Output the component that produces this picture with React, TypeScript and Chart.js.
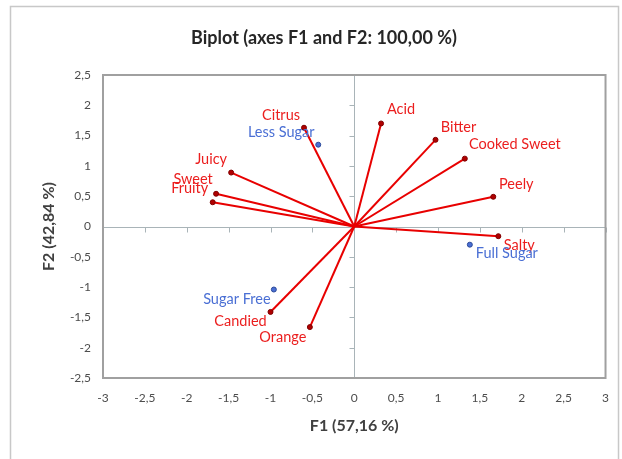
import React, { useEffect, useRef } from "react";
import { Chart, registerables } from "chart.js";

Chart.register(...registerables);

// ---------- data ----------
const variableNames = ["Citrus", "Juicy", "Sweet", "Fruity", "Acid", "Bitter", "Cooked Sweet", "Peely", "Salty", "Candied", "Orange"];
const variableF1 = [-0.6, -1.47, -1.65, -1.69, 0.32, 0.97, 1.32, 1.66, 1.72, -1.0, -0.53];
const variableF2 = [1.63, 0.89, 0.54, 0.4, 1.7, 1.43, 1.12, 0.49, -0.16, -1.41, -1.66];

const observationNames = ["Less Sugar", "Full Sugar", "Sugar Free"];
const observationF1 = [-0.43, 1.38, -0.96];
const observationF2 = [1.35, -0.3, -1.04];

const xTicks = [-3, -2.5, -2, -1.5, -1, -0.5, 0, 0.5, 1, 1.5, 2, 2.5, 3];
const yTicks = [-2.5, -2, -1.5, -1, -0.5, 0, 0.5, 1, 1.5, 2, 2.5];

const chartTitle = "Biplot (axes F1 and F2: 100,00 %)";
const xTitle = "F1 (57,16 %)";
const yTitle = "F2 (42,84 %)";

// label placement (pixel offsets of the label centre from its point)
const labelOffsets: Record<string, [number, number]> = {
  Citrus: [-23, -12],
  Juicy: [-20, -13],
  Sweet: [-23, -14],
  Fruity: [-23, -14],
  Acid: [20, -14],
  Bitter: [23, -13],
  "Cooked Sweet": [50, -14],
  Peely: [23, -12],
  Salty: [21, 9],
  Candied: [-30, 9],
  Orange: [-27, 10],
  "Less Sugar": [-37, -12],
  "Full Sugar": [37, 9],
  "Sugar Free": [-37, 10],
};

const FONT = "Lato";
const RED = "rgb(232,0,0)";
const LABEL_RED = "rgb(235,30,30)";
const BLUE = "#4A6FD4";
const fmt = (v: number) => String(v).replace(".", ",");

const biplotPlugin = {
  id: "biplotDecor",
  beforeDraw(chart: any) {
    const ctx = chart.ctx;
    ctx.save();
    ctx.fillStyle = "#ffffff";
    ctx.fillRect(0, 0, chart.width, chart.height);
    ctx.strokeStyle = "#C8C8C8";
    ctx.lineWidth = 1.5;
    ctx.strokeRect(10.5, 6.5, 608, 480);
    ctx.fillStyle = "#262626";
    ctx.font = `bold 18px ${FONT}`;
    ctx.textAlign = "center";
    ctx.textBaseline = "middle";
    ctx.fillText(chartTitle, 324, 38);
    ctx.restore();
  },
  beforeDatasetsDraw(chart: any) {
    const ctx = chart.ctx;
    const xs = chart.scales.x;
    const ys = chart.scales.y;
    const a = chart.chartArea;
    const x0 = Math.round(xs.getPixelForValue(0)) + 0.5;
    const y0 = Math.round(ys.getPixelForValue(0)) + 0.5;
    ctx.save();
    ctx.strokeStyle = "#A9B4B8";
    ctx.lineWidth = 1;
    ctx.beginPath();
    ctx.moveTo(a.left, y0);
    ctx.lineTo(a.right, y0);
    ctx.moveTo(x0, a.top);
    ctx.lineTo(x0, a.bottom);
    xTicks.forEach((v) => {
      const px = Math.round(xs.getPixelForValue(v)) + 0.5;
      ctx.moveTo(px, y0);
      ctx.lineTo(px, y0 + 5);
    });
    yTicks.forEach((v) => {
      const py = Math.round(ys.getPixelForValue(v)) + 0.5;
      ctx.moveTo(x0 - 5, py);
      ctx.lineTo(x0, py);
    });
    ctx.stroke();
    ctx.strokeStyle = "#A0A0A0";
    ctx.lineWidth = 2;
    ctx.strokeRect(a.left, a.top, a.right - a.left, a.bottom - a.top);
    ctx.restore();
  },
  afterDatasetsDraw(chart: any) {
    const ctx = chart.ctx;
    const xs = chart.scales.x;
    const ys = chart.scales.y;
    ctx.save();
    ctx.font = `14.5px ${FONT}`;
    ctx.textAlign = "center";
    ctx.textBaseline = "middle";
    const draw = (name: string, x: number, y: number, color: string) => {
      const off = labelOffsets[name] || [0, -12];
      ctx.fillStyle = color;
      ctx.fillText(name, xs.getPixelForValue(x) + off[0], ys.getPixelForValue(y) + off[1]);
    };
    variableNames.forEach((n, i) => draw(n, variableF1[i], variableF2[i], LABEL_RED));
    observationNames.forEach((n, i) => draw(n, observationF1[i], observationF2[i], BLUE));
    ctx.restore();
  },
};

export default function App() {
  const ref = useRef<HTMLCanvasElement | null>(null);
  useEffect(() => {
    document.body.style.margin = "0";
    if (!ref.current) return;
    const datasets: any[] = variableNames.map((n, i) => ({
      label: n,
      type: "scatter",
      showLine: true,
      data: [
        { x: 0, y: 0 },
        { x: variableF1[i], y: variableF2[i] },
      ],
      borderColor: RED,
      borderWidth: 2,
      pointRadius: [0, 2.5],
      pointBackgroundColor: "#B00000",
      pointBorderColor: "#800000",
      pointBorderWidth: 1,
    }));
    datasets.push({
      label: "Observations",
      type: "scatter",
      data: observationNames.map((_, i) => ({ x: observationF1[i], y: observationF2[i] })),
      pointRadius: 2.5,
      pointBackgroundColor: BLUE,
      pointBorderColor: "#2C4A9A",
      pointBorderWidth: 1,
      showLine: false,
    });
    const chart = new Chart(ref.current, {
      type: "scatter",
      data: { datasets },
      plugins: [biplotPlugin],
      options: {
        animation: false,
        responsive: false,
        layout: { padding: { left: 10, right: 15, top: 75, bottom: 11 } },
        plugins: {
          legend: { display: false },
          tooltip: { enabled: false },
          title: { display: false },
        },
        scales: {
          x: {
            type: "linear",
            min: -3,
            max: 3,
            afterBuildTicks: (s: any) => {
              s.ticks = xTicks.map((v) => ({ value: v }));
            },
            afterFit: (s: any) => {
              s.height = 70;
            },
            grid: { display: false, drawTicks: false },
            border: { display: false },
            ticks: {
              padding: 13,
              color: "#4D4D4D",
              font: { family: FONT, size: 12 },
              callback: (v: any) => fmt(Number(v)),
              maxRotation: 0,
              autoSkip: false,
            },
            title: {
              display: true,
              text: xTitle,
              color: "#404040",
              font: { family: FONT, size: 16, weight: "bold" },
              padding: { top: 0, bottom: 13 },
            },
          },
          y: {
            type: "linear",
            min: -2.5,
            max: 2.5,
            afterBuildTicks: (s: any) => {
              s.ticks = yTicks.map((v) => ({ value: v }));
            },
            afterFit: (s: any) => {
              s.width = 93;
            },
            grid: { display: false, drawTicks: false },
            border: { display: false },
            ticks: {
              padding: 12,
              color: "#4D4D4D",
              font: { family: FONT, size: 12 },
              callback: (v: any) => fmt(Number(v)),
              autoSkip: false,
            },
            title: {
              display: true,
              text: yTitle,
              color: "#404040",
              font: { family: FONT, size: 16, weight: "bold" },
              padding: { top: 29, bottom: 0 },
            },
          },
        },
      },
    });
    return () => chart.destroy();
  }, []);
  return (
    <div style={{ width: 622, height: 459 }}>
      <canvas ref={ref} width={622} height={459} style={{ display: "block" }} />
    </div>
  );
}
